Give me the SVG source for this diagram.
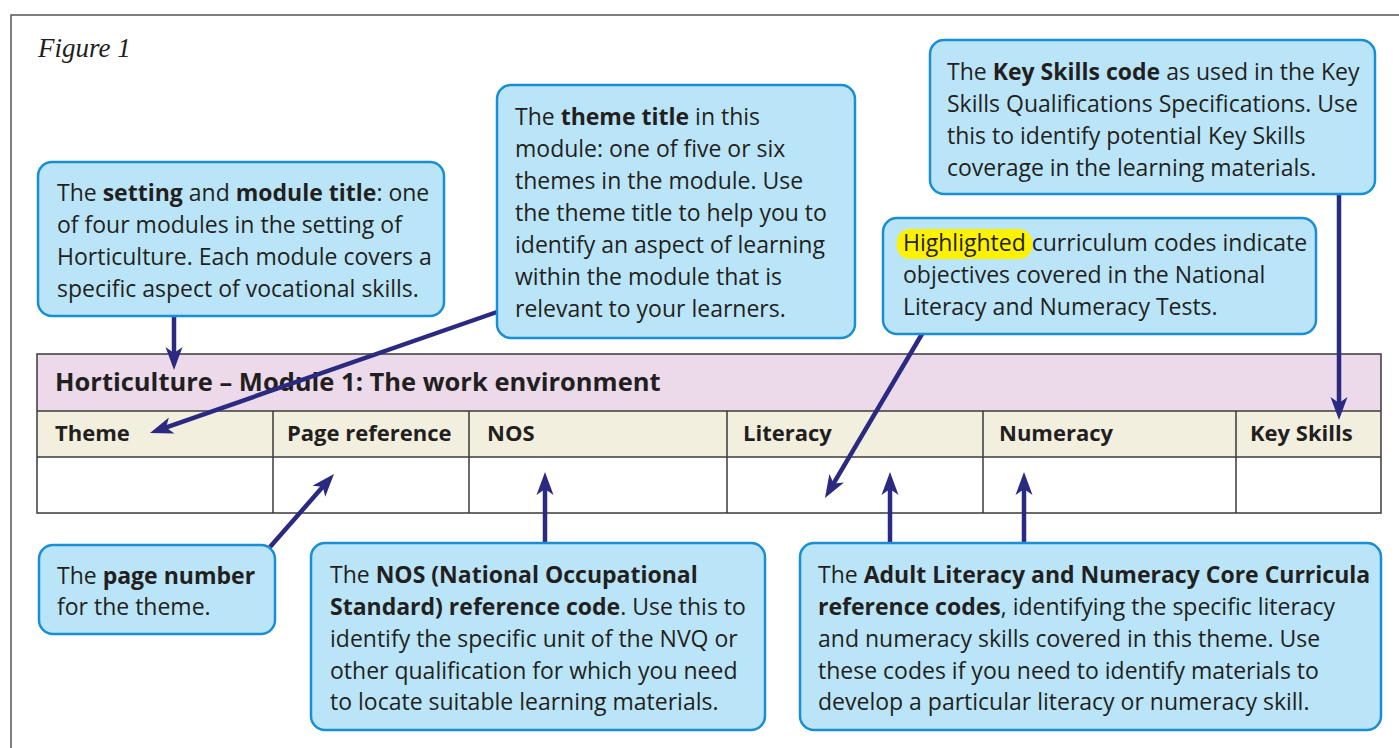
<svg xmlns="http://www.w3.org/2000/svg" width="1399" height="748" viewBox="0 0 1399 748">
<style>
.box{fill:#bae5f8;stroke:#1a8ed4;stroke-width:2.5}
.t{font-family:"Open Sans","Liberation Sans",sans-serif;font-size:23px;fill:#231f20}
.b{font-weight:bold}
.th{font-family:"Open Sans","Liberation Sans",sans-serif;font-size:22px;font-weight:bold;fill:#231f20}
.grid{fill:none;stroke:#3a3a3a;stroke-width:1.5}
.con{stroke:#2b2a80;stroke-width:4.5;fill:none;marker-end:url(#ah)}
</style>
<defs>
<marker id="ah" markerUnits="userSpaceOnUse" viewBox="-25 -10 27 20" markerWidth="27" markerHeight="20" refX="-12" refY="0" orient="auto">
<path d="M0,0 L-23,-8.5 L-17,0 L-23,8.5 Z" fill="#2b2a80"/>
</marker>
</defs>
<rect width="1399" height="748" fill="#fff"/>
<path d="M11,760 L11,15 L1410,15" fill="none" stroke="#555" stroke-width="1.5"/>
<text x="38" y="57" font-family="Liberation Serif,serif" font-style="italic" font-size="27" fill="#231f20">Figure 1</text>

<g id="table">
<rect x="37" y="354" width="1344" height="57" fill="#ecdaeb"/>
<rect x="37" y="411" width="1344" height="46" fill="#f2efdf"/>
<rect x="37" y="457" width="1344" height="56" fill="#fff"/>
<rect class="grid" x="37" y="354" width="1344" height="159"/>
<line class="grid" x1="37" y1="411" x2="1381" y2="411"/>
<line class="grid" x1="37" y1="457" x2="1381" y2="457"/>
<line class="grid" x1="273" y1="411" x2="273" y2="513"/>
<line class="grid" x1="469" y1="411" x2="469" y2="513"/>
<line class="grid" x1="727" y1="411" x2="727" y2="513"/>
<line class="grid" x1="983" y1="411" x2="983" y2="513"/>
<line class="grid" x1="1236" y1="411" x2="1236" y2="513"/>
<text class="th" x="55" y="391" style="font-size:25.5px">Horticulture – Module 1: The work environment</text>
<text class="th" x="55" y="441">Theme</text>
<text class="th" x="287" y="441">Page reference</text>
<text class="th" x="487" y="441">NOS</text>
<text class="th" x="743" y="441">Literacy</text>
<text class="th" x="999" y="441">Numeracy</text>
<text class="th" x="1250" y="441">Key Skills</text>
</g>

<g id="connectors">
<line class="con" x1="174" y1="316" x2="174" y2="358"/>
<line class="con" x1="497" y1="312" x2="161.3" y2="429.05"/>
<line class="con" x1="270" y1="547" x2="326.1" y2="483"/>
<line class="con" x1="545" y1="543" x2="545" y2="484"/>
<line class="con" x1="922" y1="334" x2="831.1" y2="487.7"/>
<line class="con" x1="890" y1="543" x2="890" y2="484"/>
<line class="con" x1="1024" y1="543" x2="1024" y2="484"/>
<line class="con" x1="1339" y1="194" x2="1339" y2="408"/>
</g>

<g id="setting">
<rect class="box" x="38" y="162" width="406" height="154" rx="14"/>
<text class="t" x="57" y="201">The <tspan class="b">setting</tspan> and <tspan class="b">module title</tspan>: one</text>
<text class="t" x="57" y="233">of four modules in the setting of</text>
<text class="t" x="57" y="265">Horticulture. Each module covers a</text>
<text class="t" x="57" y="297">specific aspect of vocational skills.</text>
</g>

<g id="theme">
<rect class="box" x="497" y="85" width="358" height="253" rx="14"/>
<text class="t" x="515" y="125">The <tspan class="b">theme title</tspan> in this</text>
<text class="t" x="515" y="157">module: one of five or six</text>
<text class="t" x="515" y="189">themes in the module. Use</text>
<text class="t" x="515" y="221">the theme title to help you to</text>
<text class="t" x="515" y="253">identify an aspect of learning</text>
<text class="t" x="515" y="285">within the module that is</text>
<text class="t" x="515" y="317">relevant to your learners.</text>
</g>

<g id="keyskills">
<rect class="box" x="930" y="40" width="445" height="154" rx="14"/>
<text class="t" x="947" y="80">The <tspan class="b">Key Skills code</tspan> as used in the Key</text>
<text class="t" x="947" y="112">Skills Qualifications Specifications. Use</text>
<text class="t" x="947" y="144">this to identify potential Key Skills</text>
<text class="t" x="947" y="176">coverage in the learning materials.</text>
</g>

<g id="highlighted">
<rect class="box" x="883" y="218" width="433" height="116" rx="14"/>
<rect x="897" y="229" width="135" height="30" rx="13" fill="#fff200"/>
<text class="t" x="903" y="251">Highlighted curriculum codes indicate</text>
<text class="t" x="903" y="283">objectives covered in the National</text>
<text class="t" x="903" y="315">Literacy and Numeracy Tests.</text>
</g>

<g id="pagenumber">
<rect class="box" x="39" y="545" width="236" height="89" rx="14"/>
<text class="t" x="57" y="584">The <tspan class="b">page number</tspan></text>
<text class="t" x="57" y="615">for the theme.</text>
</g>

<g id="nos">
<rect class="box" x="311" y="543" width="454" height="187" rx="14"/>
<text class="t" x="330" y="583">The <tspan class="b">NOS (National Occupational</tspan></text>
<text class="t" x="330" y="615"><tspan class="b">Standard) reference code</tspan>. Use this to</text>
<text class="t" x="330" y="647">identify the specific unit of the NVQ or</text>
<text class="t" x="330" y="679">other qualification for which you need</text>
<text class="t" x="330" y="710">to locate suitable learning materials.</text>
</g>

<g id="curricula">
<rect class="box" x="800" y="543" width="581" height="187" rx="14"/>
<text class="t" x="818" y="583">The <tspan class="b">Adult Literacy and Numeracy Core Curricula</tspan></text>
<text class="t" x="818" y="615"><tspan class="b">reference codes</tspan>, identifying the specific literacy</text>
<text class="t" x="818" y="647">and numeracy skills covered in this theme. Use</text>
<text class="t" x="818" y="679">these codes if you need to identify materials to</text>
<text class="t" x="818" y="710">develop a particular literacy or numeracy skill.</text>
</g>
</svg>
